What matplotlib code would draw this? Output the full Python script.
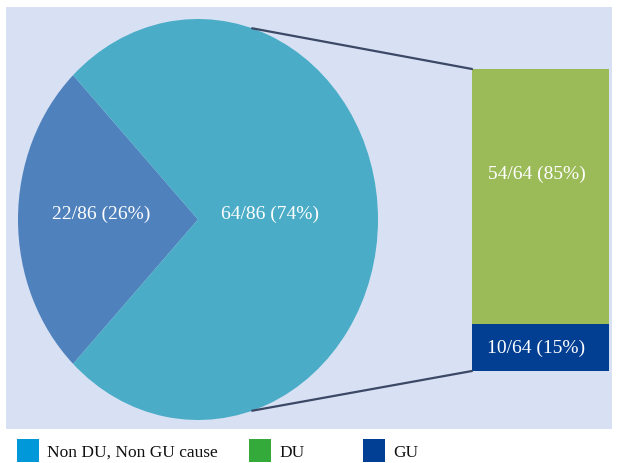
import numpy as np
import matplotlib.pyplot as plt
from matplotlib.patches import Rectangle, ConnectionPatch

# data
pie_counts = [22, 64]
pie_labels = ['22/86 (26%)', '64/86 (74%)']
bar_counts = [10, 54]            # GU at the bottom, DU on top
bar_labels = ['10/64 (15%)', '54/64 (85%)']
legend_names = ['Non DU, Non GU cause', 'DU', 'GU']

W, H = 619, 464
plt.rcParams['font.family'] = ['Liberation Serif', 'DejaVu Serif']


def box(x0, y0, x1, y1):
    # pixel box (top-left origin) -> figure fraction
    return [x0 / W, 1 - y1 / H, (x1 - x0) / W, (y1 - y0) / H]


fig = plt.figure(figsize=(W / 100, H / 100), dpi=100)

# full-figure axes for background panel and legend
base = fig.add_axes([0, 0, 1, 1], zorder=0)
base.set_xlim(0, W)
base.set_ylim(H, 0)
base.axis('off')
base.add_patch(Rectangle((6, 8), 606, 422, facecolor='#d8e1f4', edgecolor='none'))

leg_colors = ['#0098d8', '#33aa3a', '#003f93']
leg_x = [17, 249, 363]
for name, c, x in zip(legend_names, leg_colors, leg_x):
    base.add_patch(Rectangle((x, 440), 22, 23, facecolor=c, edgecolor='none'))
    base.text(x + 30, 453, name, fontsize=12.5, va='center', ha='left', color='#111111')

# pie
pax = fig.add_axes(box(18, 20, 378, 421), zorder=1)
span = 360 * pie_counts[0] / sum(pie_counts)
pax.pie(pie_counts, colors=['#4f81bd', '#4aacc6'], startangle=180 - span / 2,
        wedgeprops=dict(linewidth=0))
pax.set_aspect('auto')
pax.set_xlim(-1, 1)
pax.set_ylim(-1, 1)
pax.text(-0.54, 0.03, pie_labels[0], color='white', fontsize=14, ha='center', va='center')
pax.text(0.4, 0.03, pie_labels[1], color='white', fontsize=14, ha='center', va='center')

# bar
bax = fig.add_axes(box(472, 70, 609, 372), zorder=1)
bax.bar(0, bar_counts[0], width=1, color='#023f93', linewidth=0)
bax.bar(0, bar_counts[1], width=1, bottom=bar_counts[0], color='#9bbb59', linewidth=0)
bax.set_xlim(-0.5, 0.5)
bax.set_ylim(0, sum(bar_counts))
bax.axis('off')
bax.text(-0.03, bar_counts[0] / 2, bar_labels[0], color='white', fontsize=14, ha='center', va='center')
bax.text(-0.03, bar_counts[0] + bar_counts[1] * 0.59, bar_labels[1], color='white', fontsize=14,
         ha='center', va='center')

# connector lines
ang = np.deg2rad(72.5)
for sgn, yb in [(1, sum(bar_counts)), (-1, 0)]:
    con = ConnectionPatch(xyA=(np.cos(ang), sgn * np.sin(ang)), coordsA=pax.transData,
                          xyB=(-0.5, yb), coordsB=bax.transData,
                          color='#3b4866', linewidth=1.6, zorder=2)
    fig.add_artist(con)

fig.savefig('out.png', dpi=100)
